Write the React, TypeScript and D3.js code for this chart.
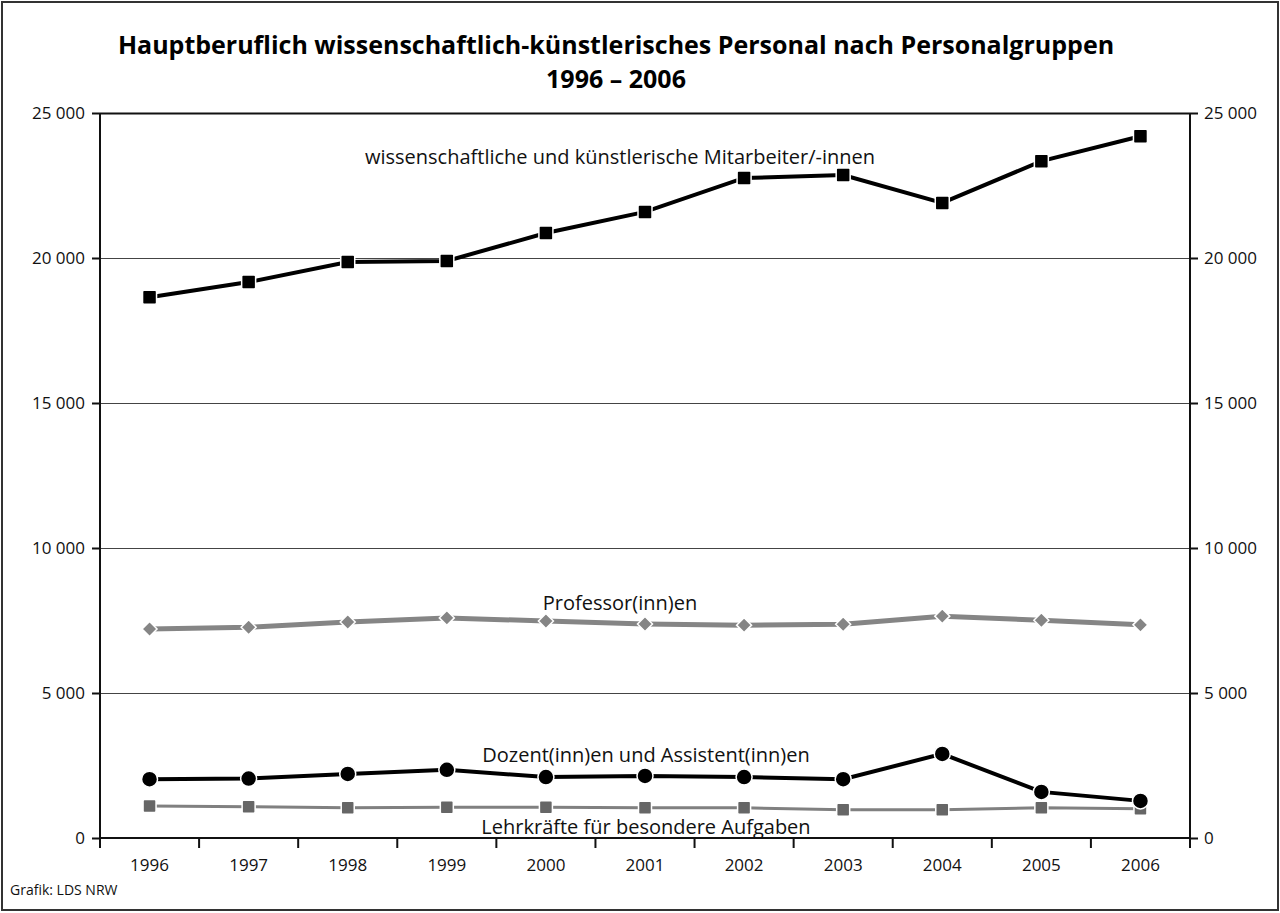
import { useEffect, useRef } from 'react';
import * as d3 from 'd3';

const years = ['1996', '1997', '1998', '1999', '2000', '2001', '2002', '2003', '2004', '2005', '2006'];
const mitarbeiter = [18650, 19170, 19860, 19900, 20860, 21590, 22760, 22860, 21900, 23340, 24200];
const professoren = [7210, 7270, 7450, 7590, 7480, 7380, 7340, 7370, 7650, 7510, 7350];
const dozenten = [2030, 2050, 2210, 2350, 2100, 2140, 2100, 2030, 2900, 1590, 1280];
const lehrkraefte = [1100, 1080, 1040, 1060, 1060, 1040, 1040, 970, 970, 1040, 1010];
const yTicks = [0, 5000, 10000, 15000, 20000, 25000];

const FONT = '"Open Sans", "Noto Sans", sans-serif';

function App() {
  const svgRef = useRef(null);

  useEffect(() => {
    const svg = d3.select(svgRef.current);
    svg.selectAll('*').remove();

    const width = 1280;
    const left = 100, right = 1190, top = 113, bottom = 838;

    // outer frame
    svg.append('rect')
      .attr('x', 2).attr('y', 2)
      .attr('width', width - 4).attr('height', 908)
      .attr('fill', 'white')
      .attr('stroke', '#333')
      .attr('stroke-width', 2);

    // title
    svg.append('text')
      .attr('x', 616).attr('y', 54)
      .attr('text-anchor', 'middle')
      .attr('font-family', FONT)
      .attr('font-weight', 'bold')
      .attr('font-size', 25)
      .text('Hauptberuflich wissenschaftlich-künstlerisches Personal nach Personalgruppen');
    svg.append('text')
      .attr('x', 616).attr('y', 88)
      .attr('text-anchor', 'middle')
      .attr('font-family', FONT)
      .attr('font-weight', 'bold')
      .attr('font-size', 25)
      .text('1996 – 2006');

    const x = d3.scaleBand().domain(years).range([left, right]).padding(0);
    const y = d3.scaleLinear().domain([0, 25000]).range([bottom, top]);
    const cx = (d, i) => x(years[i]) + x.bandwidth() / 2;
    const fmt = v => d3.format(',')(v).replace(',', ' ');

    // gridlines
    svg.append('g')
      .selectAll('line')
      .data(yTicks.filter(t => t > 0))
      .enter()
      .append('line')
      .attr('x1', left).attr('x2', right)
      .attr('y1', d => y(d) + 0.5).attr('y2', d => y(d) + 0.5)
      .attr('stroke', d => d === 25000 ? '#111' : '#444')
      .attr('stroke-width', d => d === 25000 ? 2 : 1);

    // left axis
    const gl = svg.append('g').attr('transform', `translate(${left},0)`)
      .call(d3.axisLeft(y).tickValues(yTicks).tickSize(8).tickPadding(7).tickFormat(fmt));
    gl.select('.domain').attr('stroke', '#111').attr('stroke-width', 2).attr('d', `M0,${top}V${bottom}`);
    gl.selectAll('.tick line').attr('stroke', '#111').attr('stroke-width', 2);
    gl.selectAll('.tick text').attr('font-family', FONT).attr('font-size', 17).attr('fill', '#111');

    // right axis
    const gr = svg.append('g').attr('transform', `translate(${right},0)`)
      .call(d3.axisRight(y).tickValues(yTicks).tickSize(8).tickPadding(6).tickFormat(fmt));
    gr.select('.domain').attr('stroke', '#111').attr('stroke-width', 2).attr('d', `M0,${top}V${bottom}`);
    gr.selectAll('.tick line').attr('stroke', '#111').attr('stroke-width', 2);
    gr.selectAll('.tick text').attr('font-family', FONT).attr('font-size', 17).attr('fill', '#111');

    // bottom axis
    const gb = svg.append('g').attr('transform', `translate(0,${bottom})`)
      .call(d3.axisBottom(x).tickSize(0).tickPadding(21));
    gb.select('.domain').attr('stroke', '#111').attr('stroke-width', 2).attr('d', `M${left},0H${right}`);
    gb.selectAll('.tick text').attr('font-family', FONT).attr('font-size', 17).attr('fill', '#111');
    svg.append('g')
      .selectAll('line')
      .data(d3.range(years.length + 1))
      .enter()
      .append('line')
      .attr('x1', i => left + i * x.bandwidth())
      .attr('x2', i => left + i * x.bandwidth())
      .attr('y1', bottom).attr('y2', bottom + 10)
      .attr('stroke', '#111')
      .attr('stroke-width', 2);

    const line = d3.line().x(cx).y(d => y(d));

    const series = [
      { data: lehrkraefte, stroke: '#808080', sw: 3, marker: 'square', fill: '#666', size: 13 },
      { data: dozenten, stroke: '#000', sw: 4, marker: 'circle', fill: '#000', size: 16 },
      { data: professoren, stroke: '#858585', sw: 5, marker: 'diamond', fill: '#858585', size: 15 },
      { data: mitarbeiter, stroke: '#000', sw: 4, marker: 'square', fill: '#000', size: 14 },
    ];

    series.forEach(s => {
      svg.append('path')
        .datum(s.data)
        .attr('fill', 'none')
        .attr('stroke', s.stroke)
        .attr('stroke-width', s.sw)
        .attr('d', line);

      const m = svg.append('g').selectAll('.m').data(s.data).enter();
      if (s.marker === 'square') {
        m.append('rect')
          .attr('x', (d, i) => cx(d, i) - s.size / 2)
          .attr('y', d => y(d) - s.size / 2)
          .attr('width', s.size).attr('height', s.size)
          .attr('rx', 1.5)
          .attr('fill', s.fill)
          .attr('stroke', 'white').attr('stroke-width', 1.5);
      } else if (s.marker === 'circle') {
        m.append('circle')
          .attr('cx', cx)
          .attr('cy', d => y(d))
          .attr('r', s.size / 2)
          .attr('fill', s.fill)
          .attr('stroke', 'white').attr('stroke-width', 1.5);
      } else {
        const h = s.size / 2;
        m.append('path')
          .attr('d', (d, i) => {
            const px = cx(d, i), py = y(d);
            return `M${px},${py - h}L${px + h},${py}L${px},${py + h}L${px - h},${py}Z`;
          })
          .attr('fill', s.fill)
          .attr('stroke', 'white').attr('stroke-width', 1.5);
      }
    });

    // series labels
    const labels = [
      { text: 'wissenschaftliche und künstlerische Mitarbeiter/-innen', x: 620, y: 164 },
      { text: 'Professor(inn)en', x: 620, y: 610 },
      { text: 'Dozent(inn)en und Assistent(inn)en', x: 646, y: 762 },
      { text: 'Lehrkräfte für besondere Aufgaben', x: 646, y: 834 },
    ];
    svg.append('g')
      .selectAll('text')
      .data(labels)
      .enter()
      .append('text')
      .attr('x', d => d.x).attr('y', d => d.y)
      .attr('text-anchor', 'middle')
      .attr('font-family', FONT)
      .attr('font-size', 20)
      .attr('fill', '#111')
      .text(d => d.text);

    svg.append('text')
      .attr('x', 10).attr('y', 895)
      .attr('font-family', FONT)
      .attr('font-size', 14)
      .attr('fill', '#111')
      .text('Grafik: LDS NRW');
  }, []);

  return (
    <svg ref={svgRef} width={1280} height={913}
      style={{ position: 'absolute', left: 0, top: 0, display: 'block' }} />
  );
}

export default App;
